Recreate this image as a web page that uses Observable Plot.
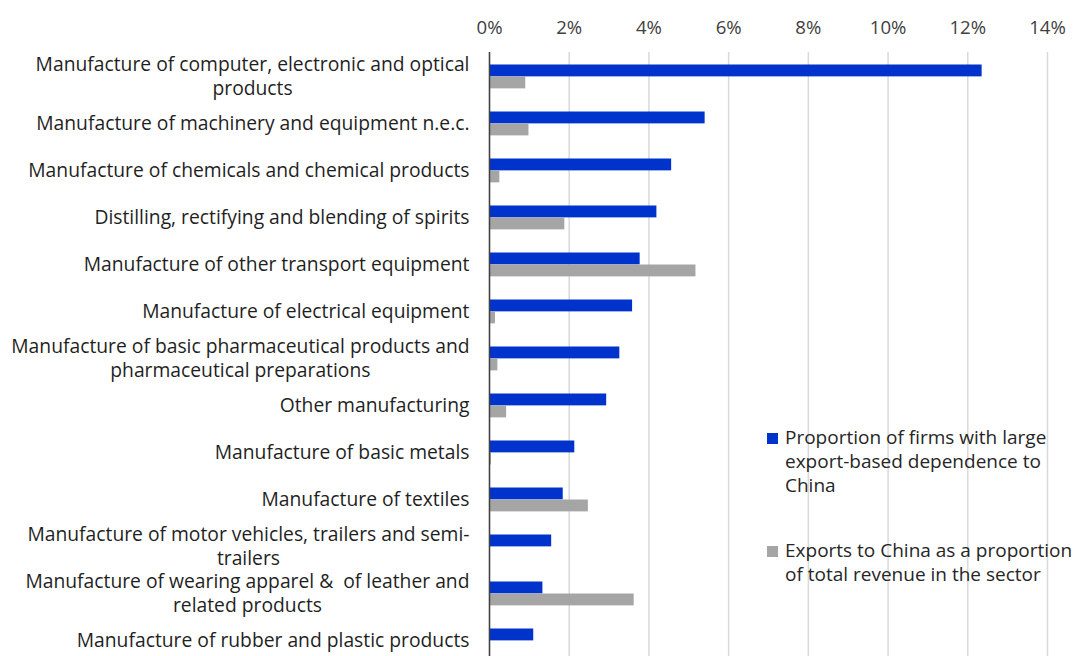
<!DOCTYPE html>
<html>
<head>
<meta charset="utf-8">
<script src="https://cdn.jsdelivr.net/npm/d3@7"></script>
<script src="https://cdn.jsdelivr.net/npm/@observablehq/plot@0.6"></script>
<style>
  body { margin: 0; background: #fff; }
  #chart { position: relative; width: 1075px; height: 656px; font-family: "Open Sans", sans-serif; }
  #legend { position: absolute; left: 767px; top: 425px; font-size: 19px; line-height: 24px; color: #262626; white-space: nowrap; }
  #legend .item { position: relative; padding-left: 18px; }
  #legend .swatch { position: absolute; left: 0; top: 8px; width: 11px; height: 11px; }
</style>
</head>
<body>
<div id="chart">
  <div id="legend"></div>
</div>
<script>
// Manufacturing sectors, top to bottom
const categories = [
  "Manufacture of computer, electronic and optical products",
  "Manufacture of machinery and equipment n.e.c.",
  "Manufacture of chemicals and chemical products",
  "Distilling, rectifying and blending of spirits",
  "Manufacture of other transport equipment",
  "Manufacture of electrical equipment",
  "Manufacture of basic pharmaceutical products and pharmaceutical preparations",
  "Other manufacturing",
  "Manufacture of basic metals",
  "Manufacture of textiles",
  "Manufacture of motor vehicles, trailers and semi-trailers",
  "Manufacture of wearing apparel &  of leather and related products",
  "Manufacture of rubber and plastic products"
];

// Axis labels, broken over two lines where needed
const tickLabels = [
  "Manufacture of computer, electronic and optical\nproducts",
  "Manufacture of machinery and equipment n.e.c.",
  "Manufacture of chemicals and chemical products",
  "Distilling, rectifying and blending of spirits",
  "Manufacture of other transport equipment",
  "Manufacture of electrical equipment",
  "Manufacture of basic pharmaceutical products and\npharmaceutical preparations",
  "Other manufacturing",
  "Manufacture of basic metals",
  "Manufacture of textiles",
  "Manufacture of motor vehicles, trailers and semi-\ntrailers",
  "Manufacture of wearing apparel &  of leather and\nrelated products",
  "Manufacture of rubber and plastic products"
];

// Proportion of firms with large export-based dependence to China (%)
const firmsShare = [12.36, 5.41, 4.57, 4.20, 3.78, 3.59, 3.27, 2.94, 2.14, 1.85, 1.56, 1.34, 1.11];

// Exports to China as a proportion of total revenue in the sector (%)
const exportShare = [0.91, 0.99, 0.26, 1.89, 5.18, 0.15, 0.21, 0.43, 0.05, 2.48, 0, 3.63, 0];

const seriesColors = ["#0033cc", "#a5a5a5"];
const xTicks = [0, 2, 4, 6, 8, 10, 12, 14];

const firms = categories.map((c, i) => ({category: c, value: firmsShare[i]}));
const exportsData = categories.map((c, i) => ({category: c, value: exportShare[i]}));
const labelOf = new Map(categories.map((c, i) => [c, tickLabels[i]]));

const band = (664.6 - 52) / categories.length;

const chart = Plot.plot({
  width: 1075,
  height: 656,
  marginTop: 52,
  marginBottom: 0,
  marginLeft: 489,
  marginRight: 28,
  style: {fontFamily: "'Open Sans', sans-serif", fontSize: "19px", background: "transparent"},
  x: {domain: [0, 14]},
  y: {domain: categories, range: [52, 664.6], padding: 0},
  marks: [
    Plot.gridX(xTicks, {stroke: "#d9d9d9", strokeOpacity: 1, strokeWidth: 1.5}),
    Plot.barX(firms, {y: "category", x: "value", fill: seriesColors[0],
      insetTop: 11.5, insetBottom: band - 23.5}),
    Plot.barX(exportsData, {y: "category", x: "value", fill: seriesColors[1],
      insetTop: 23.5, insetBottom: band - 35.5}),
    Plot.ruleX([0], {stroke: "#404040", strokeWidth: 1.5}),
    Plot.axisX({anchor: "top", ticks: xTicks, tickSize: 0, tickPadding: 19,
      tickFormat: d => d + "%", fontSize: 18.6, fill: "#404040", label: null}),
    Plot.axisY({anchor: "left", tickSize: 0, tickPadding: 20, fontSize: 19.3,
      fill: "#1f1f1f", label: null, lineHeight: 1.2, dy: -1.5,
      tickFormat: d => labelOf.get(d)})
  ]
});

const container = document.getElementById("chart");
container.insertBefore(chart, container.firstChild);

// Centre the lines of wrapped tick labels under one another, right-aligned as a block
chart.querySelectorAll('g[aria-label="y-axis tick label"] text').forEach(t => {
  const spans = t.querySelectorAll("tspan");
  if (spans.length < 2) return;
  const widths = Array.from(spans, s => s.getComputedTextLength());
  const w = Math.max(...widths);
  spans.forEach((s, i) => s.setAttribute("x", -(w - widths[i]) / 2));
});

// Legend drawn over the plot area
const legend = document.getElementById("legend");
const legendLines = [
  ["Proportion of firms with large", "export-based dependence to", "China"],
  ["Exports to China as a proportion", "of total revenue in the sector"]
];
legendLines.forEach((lines, i) => {
  const item = document.createElement("div");
  item.className = "item";
  item.style.marginBottom = i === 0 ? "41px" : "0";
  const sw = document.createElement("span");
  sw.className = "swatch";
  sw.style.background = seriesColors[i];
  item.appendChild(sw);
  lines.forEach(l => {
    const d = document.createElement("div");
    d.textContent = l;
    item.appendChild(d);
  });
  legend.appendChild(item);
});
</script>
</body>
</html>
